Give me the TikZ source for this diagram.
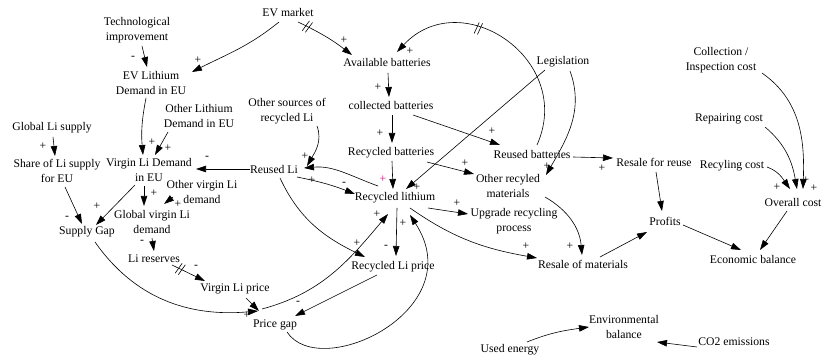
\documentclass[tikz,border=0pt]{standalone}
\usepackage{fontspec}
\setmainfont{Liberation Serif}
\usetikzlibrary{arrows.meta,calc}
\newcommand\dlmark{\tikz[x=1pt,y=1pt,baseline=0pt]\draw[-,line width=0.6pt] (-2.5,-6)--(-0.5,6) (1,-6)--(3,6);}
\begin{document}
\begin{tikzpicture}[x=1pt,y=-1pt,
  var/.style={font=\fontsize{11.7}{15}\selectfont, align=center, inner sep=1pt},
  lnk/.style={draw, line width=0.6pt, -{Triangle[length=10pt,width=6.5pt]}},
  pol/.style={font=\fontsize{11.7}{14}\selectfont, inner sep=0pt},
  dly/.style={sloped, inner sep=0pt}]
\useasboundingbox (0,0) rectangle (823,358);
% variables
\node[var] (evm)  at (288,13)  {EV market};
\node[var] (tech) at (137,30)  {Technological\\improvement};
\node[var] (evl)  at (151,83)  {EV Lithium\\Demand in EU};
\node[var] (avb)  at (387,63)  {Available batteries};
\node[var] (leg)  at (563,62)  {Legislation};
\node[var] (coll) at (721,60)  {Collection /\\Inspection cost};
\node[var] (colb) at (391,106) {collected batteries};
\node[var] (oth)  at (287,111) {Other sources of\\recycled Li};
\node[var] (olit) at (199,116) {Other Lithium\\Demand in EU};
\node[var] (gls)  at (52,128)  {Global Li supply};
\node[var] (rep)  at (729,119) {Repairing cost};
\node[var] (rcb)  at (391,153) {Recycled batteries};
\node[var] (rub)  at (532,154) {Reused batteries};
\node[var] (rfr)  at (654,162) {Resale for reuse};
\node[var] (rcc)  at (732,166) {Recyling cost};
\node[var] (shr)  at (57,171)  {Share of Li supply\\for EU};
\node[var] (vld)  at (149,170) {Virgin Li Demand\\in EU};
\node[var] (rli)  at (274,169) {Reused Li};
\node[var] (rcl)  at (395,198) {Recycled lithium};
\node[var] (orm)  at (508,186) {Other recyled\\materials};
\node[var] (ovc)  at (793,202) {Overall cost};
\node[var] (ovl)  at (202,192) {Other virgin Li\\demand};
\node[var] (gvl)  at (152,222) {Global virgin Li\\demand};
\node[var] (sgap) at (87,232)  {Supply Gap};
\node[var] (upg)  at (514,221) {Upgrade recycling\\process};
\node[var] (prof) at (665,221) {Profits};
\node[var] (eco)  at (753,259) {Economic balance};
\node[var] (lres) at (154,259) {Li reserves};
\node[var] (rlp)  at (393,267) {Recycled Li price};
\node[var] (rsm)  at (583,264) {Resale of materials};
\node[var] (vlp)  at (235,289) {Virgin Li price};
\node[var] (pgap) at (275,325) {Price gap};
\node[var] (env)  at (624,327) {Environmental\\balance};
\node[var] (use)  at (510,350) {Used energy};
\node[var] (co2)  at (734,342) {CO2 emissions};
% links
\draw[lnk] ($(evm)+(-9,9)$) to[out=219,in=27] ($(evl)+(41,-11)$);
\draw[lnk] ($(evm)+(10,9)$) to[bend left=6] node[dly,pos=0.15]{\dlmark} ($(avb)+(-35,-8)$);
\draw[lnk] ($(tech)+(5,16)$) -- ($(evl)+(-4,-16)$);
\draw[lnk] ($(evl)+(-5,15)$) to[bend right=8] ($(vld)+(-6,-15)$);
\draw[lnk] ($(olit)+(-31,16)$) -- ($(vld)+(6,-15)$);
\draw[lnk] ($(gls)+(1,9)$) -- ($(shr)+(-2,-15)$);
\draw[lnk] ($(shr)+(8,16)$) -- ($(sgap)+(-5,-8)$);
\draw[lnk] ($(vld)+(-14,15)$) -- ($(sgap)+(9,-7)$);
\draw[lnk] ($(vld)+(-5,16)$) -- ($(gvl)+(-8,-16)$);
\draw[lnk] ($(ovl)+(-29,5)$) -- ($(gvl)+(12,-18)$);
\draw[lnk] ($(gvl)+(0,16)$) -- ($(lres)+(0,-8)$);
\draw[lnk] ($(lres)+(18,6)$) -- node[dly,pos=0.25]{\dlmark} ($(vlp)+(-30,-8)$);
\draw[lnk] ($(vlp)+(11,9)$) -- ($(pgap)+(-16,-14)$);
\draw[lnk] ($(sgap)+(8,10)$) to[out=-55,in=185] ($(pgap)+(-17,-14)$);
\draw[lnk] ($(rlp)+(-16,8)$) -- ($(pgap)+(20,-9)$);
\draw[lnk] ($(pgap)+(-13,-16)$) to[out=15,in=230] ($(rcl)+(-7,16)$);
\draw[lnk] ($(pgap)+(12,7)$) .. controls +(33,50) and +(62,95) .. ($(rcl)+(15,17)$);
\draw[lnk] ($(rcl)+(2,10)$) -- ($(rlp)+(3,-11)$);
\draw[lnk] ($(rli)+(6,9)$) to[out=-65,in=154] ($(rlp)+(-28,-10)$);
\draw[lnk] ($(rli)+(23,8)$) to[bend left=5] ($(rcl)+(-40,-4)$);
\draw[lnk] ($(rcl)+(-17,-12)$) to[out=160,in=5] ($(rli)+(30,-1)$);
\draw[lnk] ($(oth)+(30,15)$) to[out=-70,in=60] ($(rli)+(33,-3)$);
\draw[lnk] ($(rli)+(-24,0)$) -- ($(vld)+(47,-1)$);
\draw[lnk] ($(avb)+(1,10)$) -- ($(colb)+(-2,-9)$);
\draw[lnk] ($(colb)+(1,9)$) -- ($(rcb)+(1,-10)$);
\draw[lnk] ($(colb)+(22,9)$) -- ($(rub)+(-32,-9)$);
\draw[lnk] ($(rcb)+(1,8)$) -- ($(rcl)+(-2,-9)$);
\draw[lnk] ($(rcb)+(36,9)$) -- ($(orm)+(-34,-12)$);
\draw[lnk] ($(leg)+(-18,8)$) -- ($(rcl)+(11,-9)$);
\draw[lnk] ($(leg)+(7,9)$) to[out=-70,in=60] ($(orm)+(38,-11)$);
\draw[lnk] ($(rub)+(5,-9)$) to[out=66,in=47,looseness=1.43] node[dly,pos=0.63]{\dlmark} ($(avb)+(10,-11)$);
\draw[lnk] ($(rub)+(41,3)$) -- ($(rfr)+(-41,-4)$);
\draw[lnk] ($(rfr)+(2,10)$) -- ($(prof)+(-3,-10)$);
\draw[lnk] ($(orm)+(37,11)$) to[out=-30,in=95] ($(rsm)+(-1,-9)$);
\draw[lnk] ($(rcl)+(33,10)$) -- ($(upg)+(-46,-7)$);
\draw[lnk] ($(rcl)+(15,10)$) to[out=-35,in=170] ($(rsm)+(-46,-6)$);
\draw[lnk] ($(rsm)+(17,-7)$) -- ($(prof)+(-18,11)$);
\draw[lnk] ($(prof)+(18,4)$) -- ($(eco)+(-12,-9)$);
\draw[lnk] ($(ovc)+(-6,9)$) -- ($(eco)+(7,-9)$);
\draw[lnk] ($(coll)+(41,13)$) to[out=-35,in=88] ($(ovc)+(10,-13)$);
\draw[lnk] ($(rep)+(36,8)$) to[out=-40,in=100] ($(ovc)+(4,-13)$);
\draw[lnk] ($(rcc)+(35,1)$) to[out=-20,in=125] ($(ovc)+(-3,-13)$);
\draw[lnk] ($(use)+(17,-8)$) to[out=22,in=188] ($(env)+(-35,0)$);
\draw[lnk] ($(co2)+(-37,5)$) -- ($(env)+(33,15)$);
% polarities
\node[pol] (q1) at (198,60) {+};
\node[pol] (q2) at (344,40) {+};
\node[pol] (q3) at (133,58) {-};
\node[pol] (q4) at (152,142) {+};
\node[pol] (q5) at (168,148) {+};
\node[pol] (q6) at (43,146) {+};
\node[pol] (q7) at (67,218) {-};
\node[pol] (q8) at (97,206) {+};
\node[pol] (q9) at (154,193) {+};
\node[pol] (q10) at (178,204) {+};
\node[pol] (q11) at (142,242) {-};
\node[pol] (q12) at (196,267) {-};
\node[pol] (q13) at (247,315) {+};
\node[pol] (q14) at (298,303) {-};
\node[pol] (q15) at (377,214) {+};
\node[pol] (q16) at (386,247) {-};
\node[pol] (q17) at (403,223) {+};
\node[pol] (q18) at (357,243) {+};
\node[pol] (q19) at (312,180) {+};
\node[pol] (q20) at (344,184) {-};
\node[pol] (q21) at (305,156) {+};
\node[pol] (q22) at (207,158) {-};
\node[pol] (q23) at (378,87) {+};
\node[pol] (q24) at (380,133) {+};
\node[pol] (q25) at (492,131) {+};
\node[pol] (q26) at (465,163) {+};
\node[pol] (q27) at (417,187) {+};
\node[pol] (q28) at (547,166) {+};
\node[pol] (q29) at (410,51) {+};
\node[pol] (q30) at (602,168) {+};
\node[pol] (q31) at (570,246) {+};
\node[pol] (q32) at (457,203) {+};
\node[pol] (q33) at (526,246) {+};
\node[pol] (q34) at (777,187) {+};
\node[pol] (q35) at (806,180) {+};
\node[pol] (q36) at (814,188) {+};
\node[pol,text=magenta] (q37) at (383,179) {+};
\end{tikzpicture}
\end{document}
